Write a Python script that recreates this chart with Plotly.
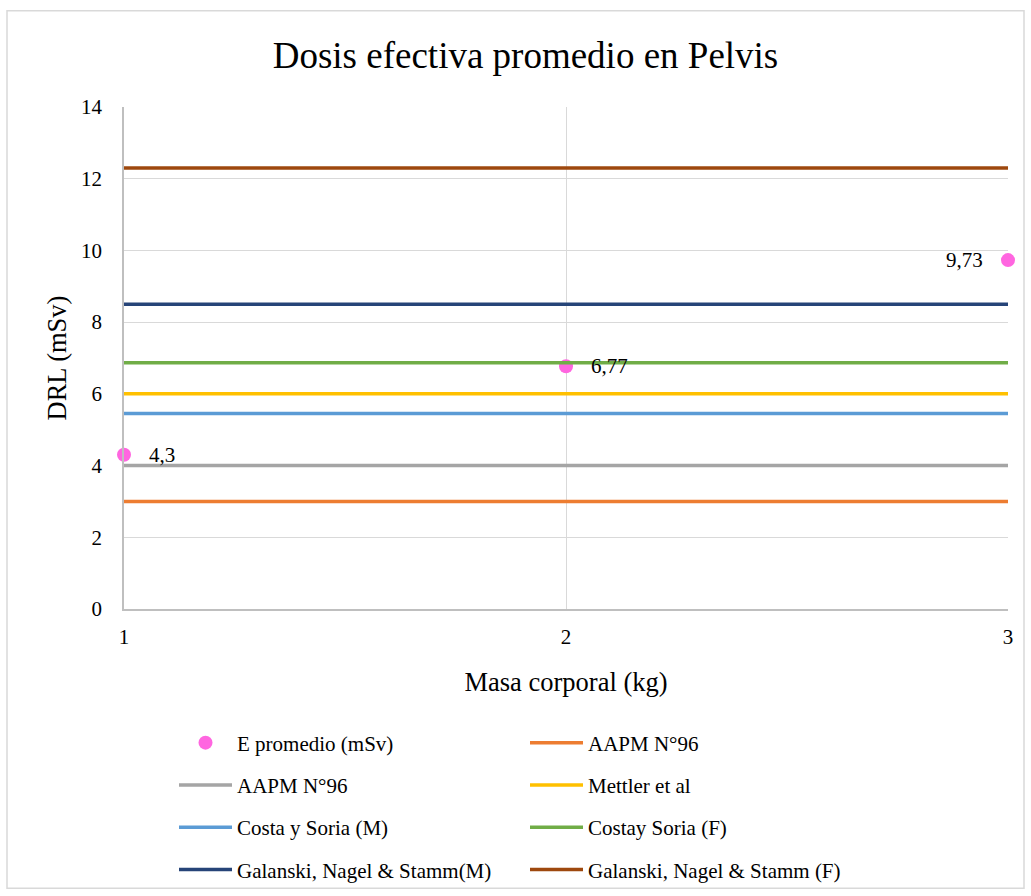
import plotly.graph_objects as go

# Body-mass categories on the horizontal axis
masa = [1, 2, 3]

# Mean effective dose measured at each category (mSv)
e_promedio = [4.3, 6.77, 9.73]
e_etiquetas = ["4,3", "6,77", "9,73"]

# Reference diagnostic levels (mSv), constant across categories
aapm_naranja = [3, 3, 3]
aapm_gris = [4, 4, 4]
mettler = [6, 6, 6]
costa_m = [5.45, 5.45, 5.45]
costa_f = [6.87, 6.87, 6.87]
galanski_m = [8.5, 8.5, 8.5]
galanski_f = [12.3, 12.3, 12.3]

y_ticks = [0, 2, 4, 6, 8, 10, 12, 14]

FONT = "Liberation Serif, Times New Roman, serif"

fig = go.Figure()

fig.add_trace(go.Scatter(
    x=masa, y=e_promedio, mode="markers", name="E promedio (mSv)",
    marker=dict(color="#FF66E0", size=14),
    cliponaxis=False, legend="legend", legendgroup="g1",
))

referencias = [
    ("AAPM N°96", aapm_naranja, "#ED7D31", "legend2"),
    ("AAPM N°96", aapm_gris, "#A5A5A5", "legend"),
    ("Mettler et al", mettler, "#FFC000", "legend2"),
    ("Costa y Soria (M)", costa_m, "#5B9BD5", "legend"),
    ("Costay Soria (F)", costa_f, "#70AD47", "legend2"),
    ("Galanski, Nagel & Stamm(M)", galanski_m, "#264478", "legend"),
    ("Galanski, Nagel & Stamm (F)", galanski_f, "#9E480E", "legend2"),
]
for i, (nombre, valores, color, leyenda) in enumerate(referencias):
    fig.add_trace(go.Scatter(
        x=masa, y=valores, mode="lines", name=nombre,
        line=dict(color=color, width=3.5),
        legend=leyenda, legendgroup=f"r{i}",
    ))

# Data labels next to each dose point (last one sits to the left of its point)
etiquetas = []
for i, (xv, yv, txt) in enumerate(zip(masa, e_promedio, e_etiquetas)):
    izquierda = i == len(masa) - 1
    etiquetas.append(dict(
        x=xv, y=yv, xref="x", yref="y", text=txt, showarrow=False,
        xanchor="right" if izquierda else "left", yanchor="middle",
        xshift=-23 if izquierda else 23,
        font=dict(family=FONT, size=21, color="#000000"),
    ))

# plot area in pixels: x 124..1008, y 106.5..609.3
PL, PR, PT, PB = 124, 1008, 106.5, 609.3
W, H = 1031, 896


def px_x(p):
    return (p - PL) / (PR - PL)


def px_y(p):
    return (PB - p) / (PB - PT)


legend_common = dict(
    orientation="v", traceorder="grouped", tracegroupgap=12,
    font=dict(family=FONT, size=21, color="#000000"),
    bgcolor="rgba(0,0,0,0)", itemwidth=53,
    xanchor="left", yanchor="top",
)

fig.update_layout(
    width=W, height=H,
    margin=dict(l=PL, r=W - PR, t=PT, b=H - PB, autoexpand=False),
    paper_bgcolor="#FFFFFF", plot_bgcolor="#FFFFFF",
    font=dict(family=FONT, size=21, color="#000000"),
    title=dict(
        text="Dosis efectiva promedio en Pelvis",
        font=dict(family=FONT, size=37, color="#000000"),
        x=525.5 / W, xanchor="center", xref="container",
        y=1 - 55 / H, yanchor="middle", yref="container",
    ),
    xaxis=dict(
        range=[1, 3], tickvals=masa, ticktext=[str(v) for v in masa],
        showgrid=True, gridcolor="#D9D9D9", gridwidth=1,
        showline=True, linecolor="#BFBFBF", linewidth=1.5,
        zeroline=False, ticks="", ticklabelstandoff=8,
        tickfont=dict(family=FONT, size=21, color="#000000"),
        title=dict(text="Masa corporal (kg)", standoff=24,
                   font=dict(family=FONT, size=26.5, color="#000000")),
    ),
    yaxis=dict(
        range=[0, 14], tickvals=y_ticks,
        showgrid=True, gridcolor="#D9D9D9", gridwidth=1,
        showline=True, linecolor="#BFBFBF", linewidth=1.5,
        zeroline=False, ticks="", ticklabelstandoff=16,
        tickfont=dict(family=FONT, size=21, color="#000000"),
        title=dict(text="DRL (mSv)", standoff=7,
                   font=dict(family=FONT, size=26.5, color="#000000")),
    ),
    legend=dict(x=px_x(174), y=px_y(723), **legend_common),
    legend2=dict(x=px_x(525), y=px_y(723), **legend_common),
    annotations=etiquetas,
    shapes=[dict(
        type="rect", xref="paper", yref="paper",
        x0=px_x(7), x1=px_x(1024), y0=px_y(889), y1=px_y(10),
        line=dict(color="#D9D9D9", width=1.5), layer="below",
    )],
)

fig.write_html("out.html")
